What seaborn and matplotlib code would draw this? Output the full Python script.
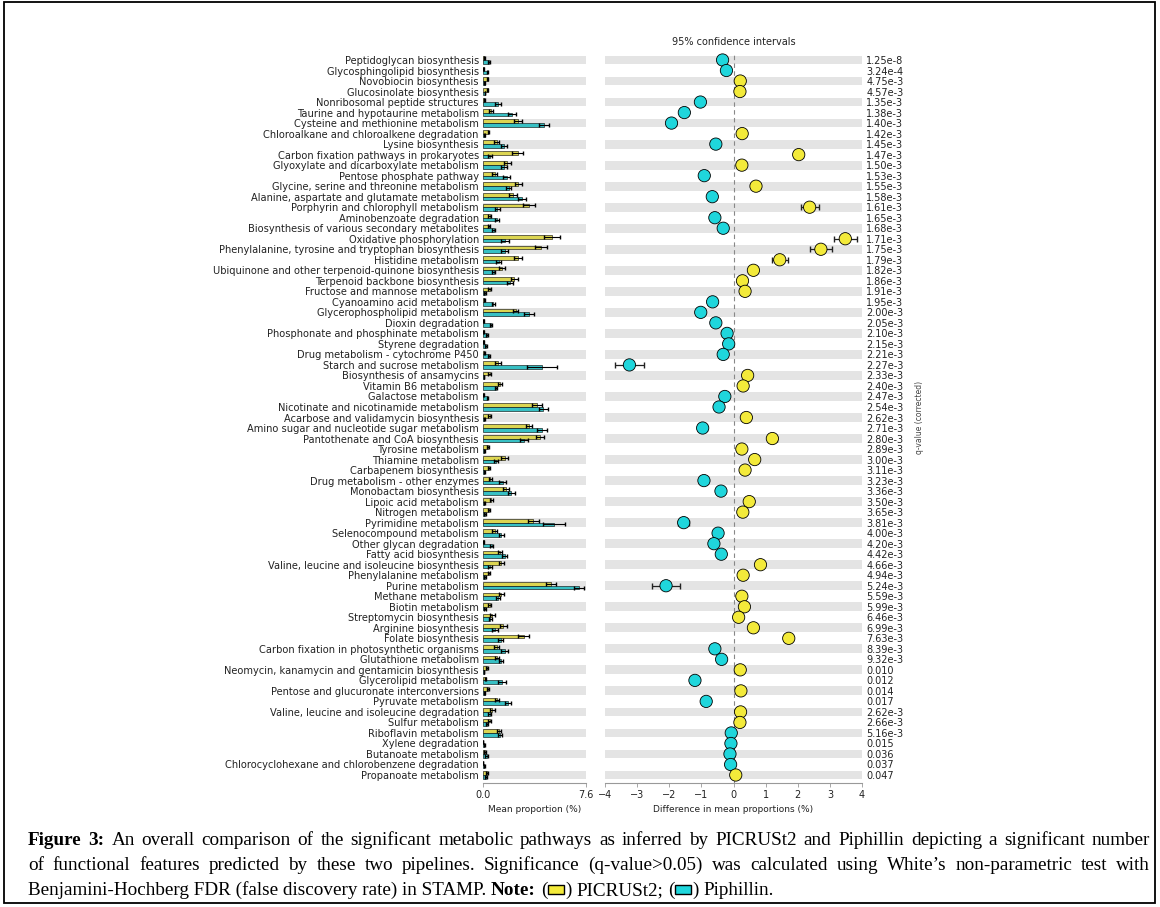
import numpy as np
import pandas as pd
import matplotlib
matplotlib.use('Agg')
import matplotlib.pyplot as plt
import seaborn as sns
from matplotlib.patches import Rectangle

pathways = [
    'Peptidoglycan biosynthesis', 'Glycosphingolipid biosynthesis', 'Novobiocin biosynthesis',
    'Glucosinolate biosynthesis', 'Nonribosomal peptide structures', 'Taurine and hypotaurine metabolism',
    'Cysteine and methionine metabolism', 'Chloroalkane and chloroalkene degradation', 'Lysine biosynthesis',
    'Carbon fixation pathways in prokaryotes', 'Glyoxylate and dicarboxylate metabolism',
    'Pentose phosphate pathway', 'Glycine, serine and threonine metabolism',
    'Alanine, aspartate and glutamate metabolism', 'Porphyrin and chlorophyll metabolism',
    'Aminobenzoate degradation', 'Biosynthesis of various secondary metabolites', 'Oxidative phosphorylation',
    'Phenylalanine, tyrosine and tryptophan biosynthesis', 'Histidine metabolism',
    'Ubiquinone and other terpenoid-quinone biosynthesis', 'Terpenoid backbone biosynthesis',
    'Fructose and mannose metabolism', 'Cyanoamino acid metabolism', 'Glycerophospholipid metabolism',
    'Dioxin degradation', 'Phosphonate and phosphinate metabolism', 'Styrene degradation',
    'Drug metabolism - cytochrome P450', 'Starch and sucrose metabolism', 'Biosynthesis of ansamycins',
    'Vitamin B6 metabolism', 'Galactose metabolism', 'Nicotinate and nicotinamide metabolism',
    'Acarbose and validamycin biosynthesis', 'Amino sugar and nucleotide sugar metabolism',
    'Pantothenate and CoA biosynthesis', 'Tyrosine metabolism', 'Thiamine metabolism',
    'Carbapenem biosynthesis', 'Drug metabolism - other enzymes', 'Monobactam biosynthesis',
    'Lipoic acid metabolism', 'Nitrogen metabolism', 'Pyrimidine metabolism', 'Selenocompound metabolism',
    'Other glycan degradation', 'Fatty acid biosynthesis', 'Valine, leucine and isoleucine biosynthesis',
    'Phenylalanine metabolism', 'Purine metabolism', 'Methane metabolism', 'Biotin metabolism',
    'Streptomycin biosynthesis', 'Arginine biosynthesis', 'Folate biosynthesis',
    'Carbon fixation in photosynthetic organisms', 'Glutathione metabolism',
    'Neomycin, kanamycin and gentamicin biosynthesis', 'Glycerolipid metabolism',
    'Pentose and glucuronate interconversions', 'Pyruvate metabolism',
    'Valine, leucine and isoleucine degradation', 'Sulfur metabolism', 'Riboflavin metabolism',
    'Xylene degradation', 'Butanoate metabolism', 'Chlorocyclohexane and chlorobenzene degradation',
    'Propanoate metabolism',
]

q_values = [
    '1.25e-8', '3.24e-4', '4.75e-3', '4.57e-3', '1.35e-3', '1.38e-3', '1.40e-3', '1.42e-3', '1.45e-3', '1.47e-3',
    '1.50e-3', '1.53e-3', '1.55e-3', '1.58e-3', '1.61e-3', '1.65e-3', '1.68e-3', '1.71e-3', '1.75e-3', '1.79e-3',
    '1.82e-3', '1.86e-3', '1.91e-3', '1.95e-3', '2.00e-3', '2.05e-3', '2.10e-3', '2.15e-3', '2.21e-3', '2.27e-3',
    '2.33e-3', '2.40e-3', '2.47e-3', '2.54e-3', '2.62e-3', '2.71e-3', '2.80e-3', '2.89e-3', '3.00e-3', '3.11e-3',
    '3.23e-3', '3.36e-3', '3.50e-3', '3.65e-3', '3.81e-3', '4.00e-3', '4.20e-3', '4.42e-3', '4.66e-3', '4.94e-3',
    '5.24e-3', '5.59e-3', '5.99e-3', '6.46e-3', '6.99e-3', '7.63e-3', '8.39e-3', '9.32e-3', '0.010', '0.012',
    '0.014', '0.017', '2.62e-3', '2.66e-3', '5.16e-3', '0.015', '0.036', '0.037', '0.047',
]

# mean proportion (%) per pipeline
picrust_mean = [
    0.10, 0.05, 0.35, 0.35, 0.10, 0.60, 2.60, 0.40, 1.00, 2.55,
    1.80, 0.85, 2.60, 2.20, 3.40, 0.50, 0.45, 5.10, 4.30, 2.60,
    1.40, 2.30, 0.50, 0.10, 2.40, 0.05, 0.05, 0.05, 0.10, 1.10,
    0.50, 1.25, 0.05, 4.00, 0.50, 3.40, 4.20, 0.35, 1.60, 0.45,
    0.55, 1.70, 0.60, 0.45, 3.70, 0.85, 0.05, 1.25, 1.35, 0.45,
    5.00, 1.35, 0.50, 0.70, 1.50, 3.00, 1.00, 1.00, 0.30, 0.20,
    0.35, 1.00, 0.70, 0.50, 1.20, 0.02, 0.15, 0.02, 0.30,
]
piphillin_mean = [
    0.45, 0.30, 0.12, 0.15, 1.10, 2.15, 4.50, 0.12, 1.55, 0.55,
    1.55, 1.75, 1.90, 2.85, 1.05, 1.05, 0.80, 1.60, 1.60, 1.15,
    0.80, 2.00, 0.15, 0.75, 3.40, 0.60, 0.30, 0.22, 0.45, 4.35,
    0.08, 0.95, 0.33, 4.45, 0.10, 4.35, 3.00, 0.10, 0.95, 0.10,
    1.45, 2.10, 0.10, 0.15, 5.25, 1.35, 0.65, 1.60, 0.50, 0.15,
    7.10, 1.10, 0.15, 0.55, 0.90, 1.30, 1.60, 1.35, 0.08, 1.40,
    0.12, 1.85, 0.50, 0.30, 1.28, 0.10, 0.28, 0.10, 0.23,
]
picrust_sd = [
    0.03, 0.02, 0.05, 0.05, 0.05, 0.15, 0.30, 0.05, 0.20, 0.40,
    0.25, 0.20, 0.25, 0.30, 0.45, 0.10, 0.10, 0.60, 0.45, 0.30,
    0.20, 0.25, 0.10, 0.05, 0.20, 0.02, 0.02, 0.02, 0.05, 0.25,
    0.10, 0.15, 0.02, 0.35, 0.10, 0.25, 0.30, 0.08, 0.25, 0.10,
    0.10, 0.20, 0.12, 0.10, 0.40, 0.15, 0.02, 0.15, 0.20, 0.10,
    0.35, 0.20, 0.10, 0.15, 0.25, 0.40, 0.20, 0.15, 0.05, 0.05,
    0.08, 0.15, 0.15, 0.10, 0.15, 0.01, 0.05, 0.01, 0.05,
]
piphillin_sd = [
    0.05, 0.04, 0.03, 0.03, 0.25, 0.30, 0.40, 0.03, 0.20, 0.15,
    0.20, 0.25, 0.20, 0.30, 0.20, 0.15, 0.10, 0.30, 0.25, 0.20,
    0.10, 0.20, 0.05, 0.10, 0.35, 0.08, 0.05, 0.06, 0.08, 1.10,
    0.03, 0.10, 0.06, 0.35, 0.03, 0.40, 0.30, 0.03, 0.15, 0.03,
    0.25, 0.25, 0.03, 0.05, 0.80, 0.20, 0.10, 0.20, 0.15, 0.05,
    0.35, 0.15, 0.05, 0.10, 0.20, 0.20, 0.25, 0.15, 0.03, 0.30,
    0.03, 0.25, 0.10, 0.08, 0.15, 0.03, 0.10, 0.03, 0.08,
]

# difference in mean proportions (%) and 95% CI half width
diff = [
    -0.34, -0.22, 0.21, 0.20, -1.03, -1.53, -1.93, 0.27, -0.55, 2.03,
    0.26, -0.91, 0.70, -0.66, 2.37, -0.58, -0.32, 3.48, 2.72, 1.44,
    0.62, 0.28, 0.36, -0.65, -1.02, -0.55, -0.20, -0.15, -0.32, -3.24,
    0.44, 0.30, -0.27, -0.45, 0.40, -0.96, 1.21, 0.26, 0.66, 0.36,
    -0.92, -0.39, 0.49, 0.29, -1.55, -0.48, -0.61, -0.38, 0.84, 0.30,
    -2.10, 0.26, 0.34, 0.16, 0.62, 1.72, -0.58, -0.37, 0.21, -1.20,
    0.23, -0.85, 0.22, 0.20, -0.07, -0.08, -0.11, -0.09, 0.07,
]
diff_ci = [
    0.05, 0.05, 0.05, 0.05, 0.10, 0.12, 0.14, 0.05, 0.10, 0.14,
    0.10, 0.10, 0.12, 0.12, 0.28, 0.08, 0.08, 0.36, 0.35, 0.25,
    0.10, 0.10, 0.08, 0.08, 0.12, 0.06, 0.05, 0.05, 0.06, 0.44,
    0.06, 0.08, 0.05, 0.12, 0.06, 0.14, 0.14, 0.05, 0.10, 0.06,
    0.10, 0.10, 0.08, 0.06, 0.18, 0.10, 0.08, 0.10, 0.10, 0.06,
    0.43, 0.10, 0.06, 0.08, 0.10, 0.14, 0.10, 0.10, 0.05, 0.12,
    0.05, 0.12, 0.08, 0.06, 0.12, 0.05, 0.12, 0.05, 0.05,
]

groups = ['PICRUSt2', 'Piphillin']
colors = {'PICRUSt2': '#f3ea3a', 'Piphillin': '#1fd6dc'}

n = len(pathways)
rows = np.arange(n)
W, H = 1160, 907

sns.set_theme(style='white')
plt.rcParams['font.family'] = ['DejaVu Sans']

fig = plt.figure(figsize=(W / 100, H / 100), dpi=100)

ax_top, ax_bot = 52, 783
ylim = (n - 1 + 0.76, -0.76)


def axes_px(x0, x1):
    return fig.add_axes([x0 / W, 1 - ax_bot / H, (x1 - x0) / W, (ax_bot - ax_top) / H])


# ---- left: mean proportion bars
ax1 = axes_px(483, 586)
for i in range(0, n, 2):
    ax1.axhspan(i - 0.42, i + 0.42, color='#e4e4e4', lw=0, zorder=0)

df_bar = pd.DataFrame({
    'pathway': pathways * 2,
    'group': [groups[0]] * n + [groups[1]] * n,
    'mean': picrust_mean + piphillin_mean,
})
sns.barplot(data=df_bar, x='mean', y='pathway', hue='group', order=pathways, hue_order=groups,
            palette=colors, orient='h', width=0.7, errorbar=None, edgecolor='black',
            linewidth=0.4, legend=False, ax=ax1, zorder=2)
ax1.errorbar(picrust_mean, rows - 0.175, xerr=picrust_sd, fmt='none', ecolor='black',
             elinewidth=0.8, capsize=1.2, zorder=3)
ax1.errorbar(piphillin_mean, rows + 0.175, xerr=piphillin_sd, fmt='none', ecolor='black',
             elinewidth=0.8, capsize=1.2, zorder=3)
ax1.set_xlim(0, 7.6)
ax1.set_ylim(*ylim)
ax1.set_xticks([0, 7.6])
ax1.set_xticklabels(['0.0', '7.6'])
ax1.set_yticks(rows)
ax1.set_yticklabels(pathways, fontsize=7.1, color='#222222')
ax1.set_ylabel('')
ax1.set_xlabel('Mean proportion (%)', fontsize=6.5, color='#222222', labelpad=4)

# ---- right: difference in mean proportions
ax2 = axes_px(605, 862)
for i in range(0, n, 2):
    ax2.axhspan(i - 0.42, i + 0.42, color='#e4e4e4', lw=0, zorder=0)
ax2.axvline(0, color='#888888', ls=(0, (4, 3)), lw=0.8, zorder=1)
ax2.errorbar(diff, rows, xerr=diff_ci, fmt='none', ecolor='#222222', elinewidth=0.9,
             capsize=2.5, zorder=2)
df_pts = pd.DataFrame({'diff': diff, 'row': rows,
                       'side': [groups[0] if d > 0 else groups[1] for d in diff]})
sns.scatterplot(data=df_pts, x='diff', y='row', hue='side', palette=colors, s=78,
                edgecolor='black', linewidth=0.6, legend=False, ax=ax2, zorder=3)
ax2.set_xlim(-4, 4)
ax2.set_ylim(*ylim)
ax2.set_xticks(range(-4, 5))
ax2.set_yticks([])
ax2.set_ylabel('')
ax2.set_xlabel('Difference in mean proportions (%)', fontsize=6.5, color='#222222', labelpad=4)
ax2.set_title('95% confidence intervals', fontsize=7, color='#222222', pad=5)

ax3 = ax2.twinx()
ax3.set_ylim(*ylim)
ax3.set_yticks(rows)
ax3.set_yticklabels(q_values, fontsize=7, color='#222222')
ax3.tick_params(axis='y', length=0, pad=3)
ax3.set_ylabel('q-value (corrected)', fontsize=5.5, color='#444444', labelpad=8)
ax3.grid(False)

for ax in (ax1, ax2, ax3):
    for s in ('top', 'left', 'right'):
        ax.spines[s].set_visible(False)
    ax.grid(False)
ax3.spines['bottom'].set_visible(False)
for ax in (ax1, ax2):
    ax.spines['bottom'].set_color('#999999')
    ax.spines['bottom'].set_linewidth(0.8)
    ax.tick_params(axis='x', bottom=True, length=3, width=0.6, color='#999999',
                   labelsize=7, labelcolor='#222222', pad=2)
ax1.tick_params(axis='y', length=0, pad=3)

# ---- caption
renderer = fig.canvas.get_renderer()
cap_fs = 13.8
cap_font = 'Liberation Serif'


def put(x_px, y_px, s, bold=False):
    t = fig.text(x_px / W, 1 - y_px / H, s, fontsize=cap_fs, family=cap_font,
                 fontweight='bold' if bold else 'normal', va='baseline', ha='left', color='black')
    return t, t.get_window_extent(renderer).width


def justify(words, y_px, x0=28, x1=1150, nbold=0):
    items = [put(0, y_px, w, k < nbold) for k, w in enumerate(words)]
    gap = (x1 - x0 - sum(w for _, w in items)) / (len(items) - 1)
    x = x0
    for t, w in items:
        t.set_x(x / W)
        x += w + gap


justify(('Figure 3: An overall comparison of the significant metabolic pathways as inferred by '
         'PICRUSt2 and Piphillin depicting a significant number').split(), 845, nbold=2)
justify(('of functional features predicted by these two pipelines. Significance (q-value>0.05) '
         'was calculated using White\u2019s non-parametric test with').split(), 870)

t_a, w_a = put(0, 0, 'a a')
t_b, w_b = put(0, 0, 'aa')
space = w_a - w_b
t_a.remove()
t_b.remove()

line3 = [(' ', 'Benjamini-Hochberg FDR (false discovery rate) in STAMP.', False),
         (' ', 'Note:', True), (' ', '(', False), ('', 'box', groups[0]), ('', ')', False),
         (' ', 'PICRUSt2;', False), (' ', '(', False), ('', 'box', groups[1]), ('', ')', False),
         (' ', 'Piphillin.', False)]
x = 28 - space
for sep, s, flag in line3:
    if sep:
        x += space
    if s == 'box':
        fig.add_artist(Rectangle(((x + 1) / W, 1 - 894 / H), 16 / W, 9 / H, transform=fig.transFigure,
                                 facecolor=colors[flag], edgecolor='black', lw=1.0))
        x += 18
    else:
        _, w = put(x, 895, s, flag)
        x += w

# figure frame
fig.add_artist(Rectangle((4 / W, 1 - 903 / H), 1151 / W, 901 / H, transform=fig.transFigure,
                         fill=False, edgecolor='black', lw=1.3))

fig.savefig('out.png', dpi=100)
